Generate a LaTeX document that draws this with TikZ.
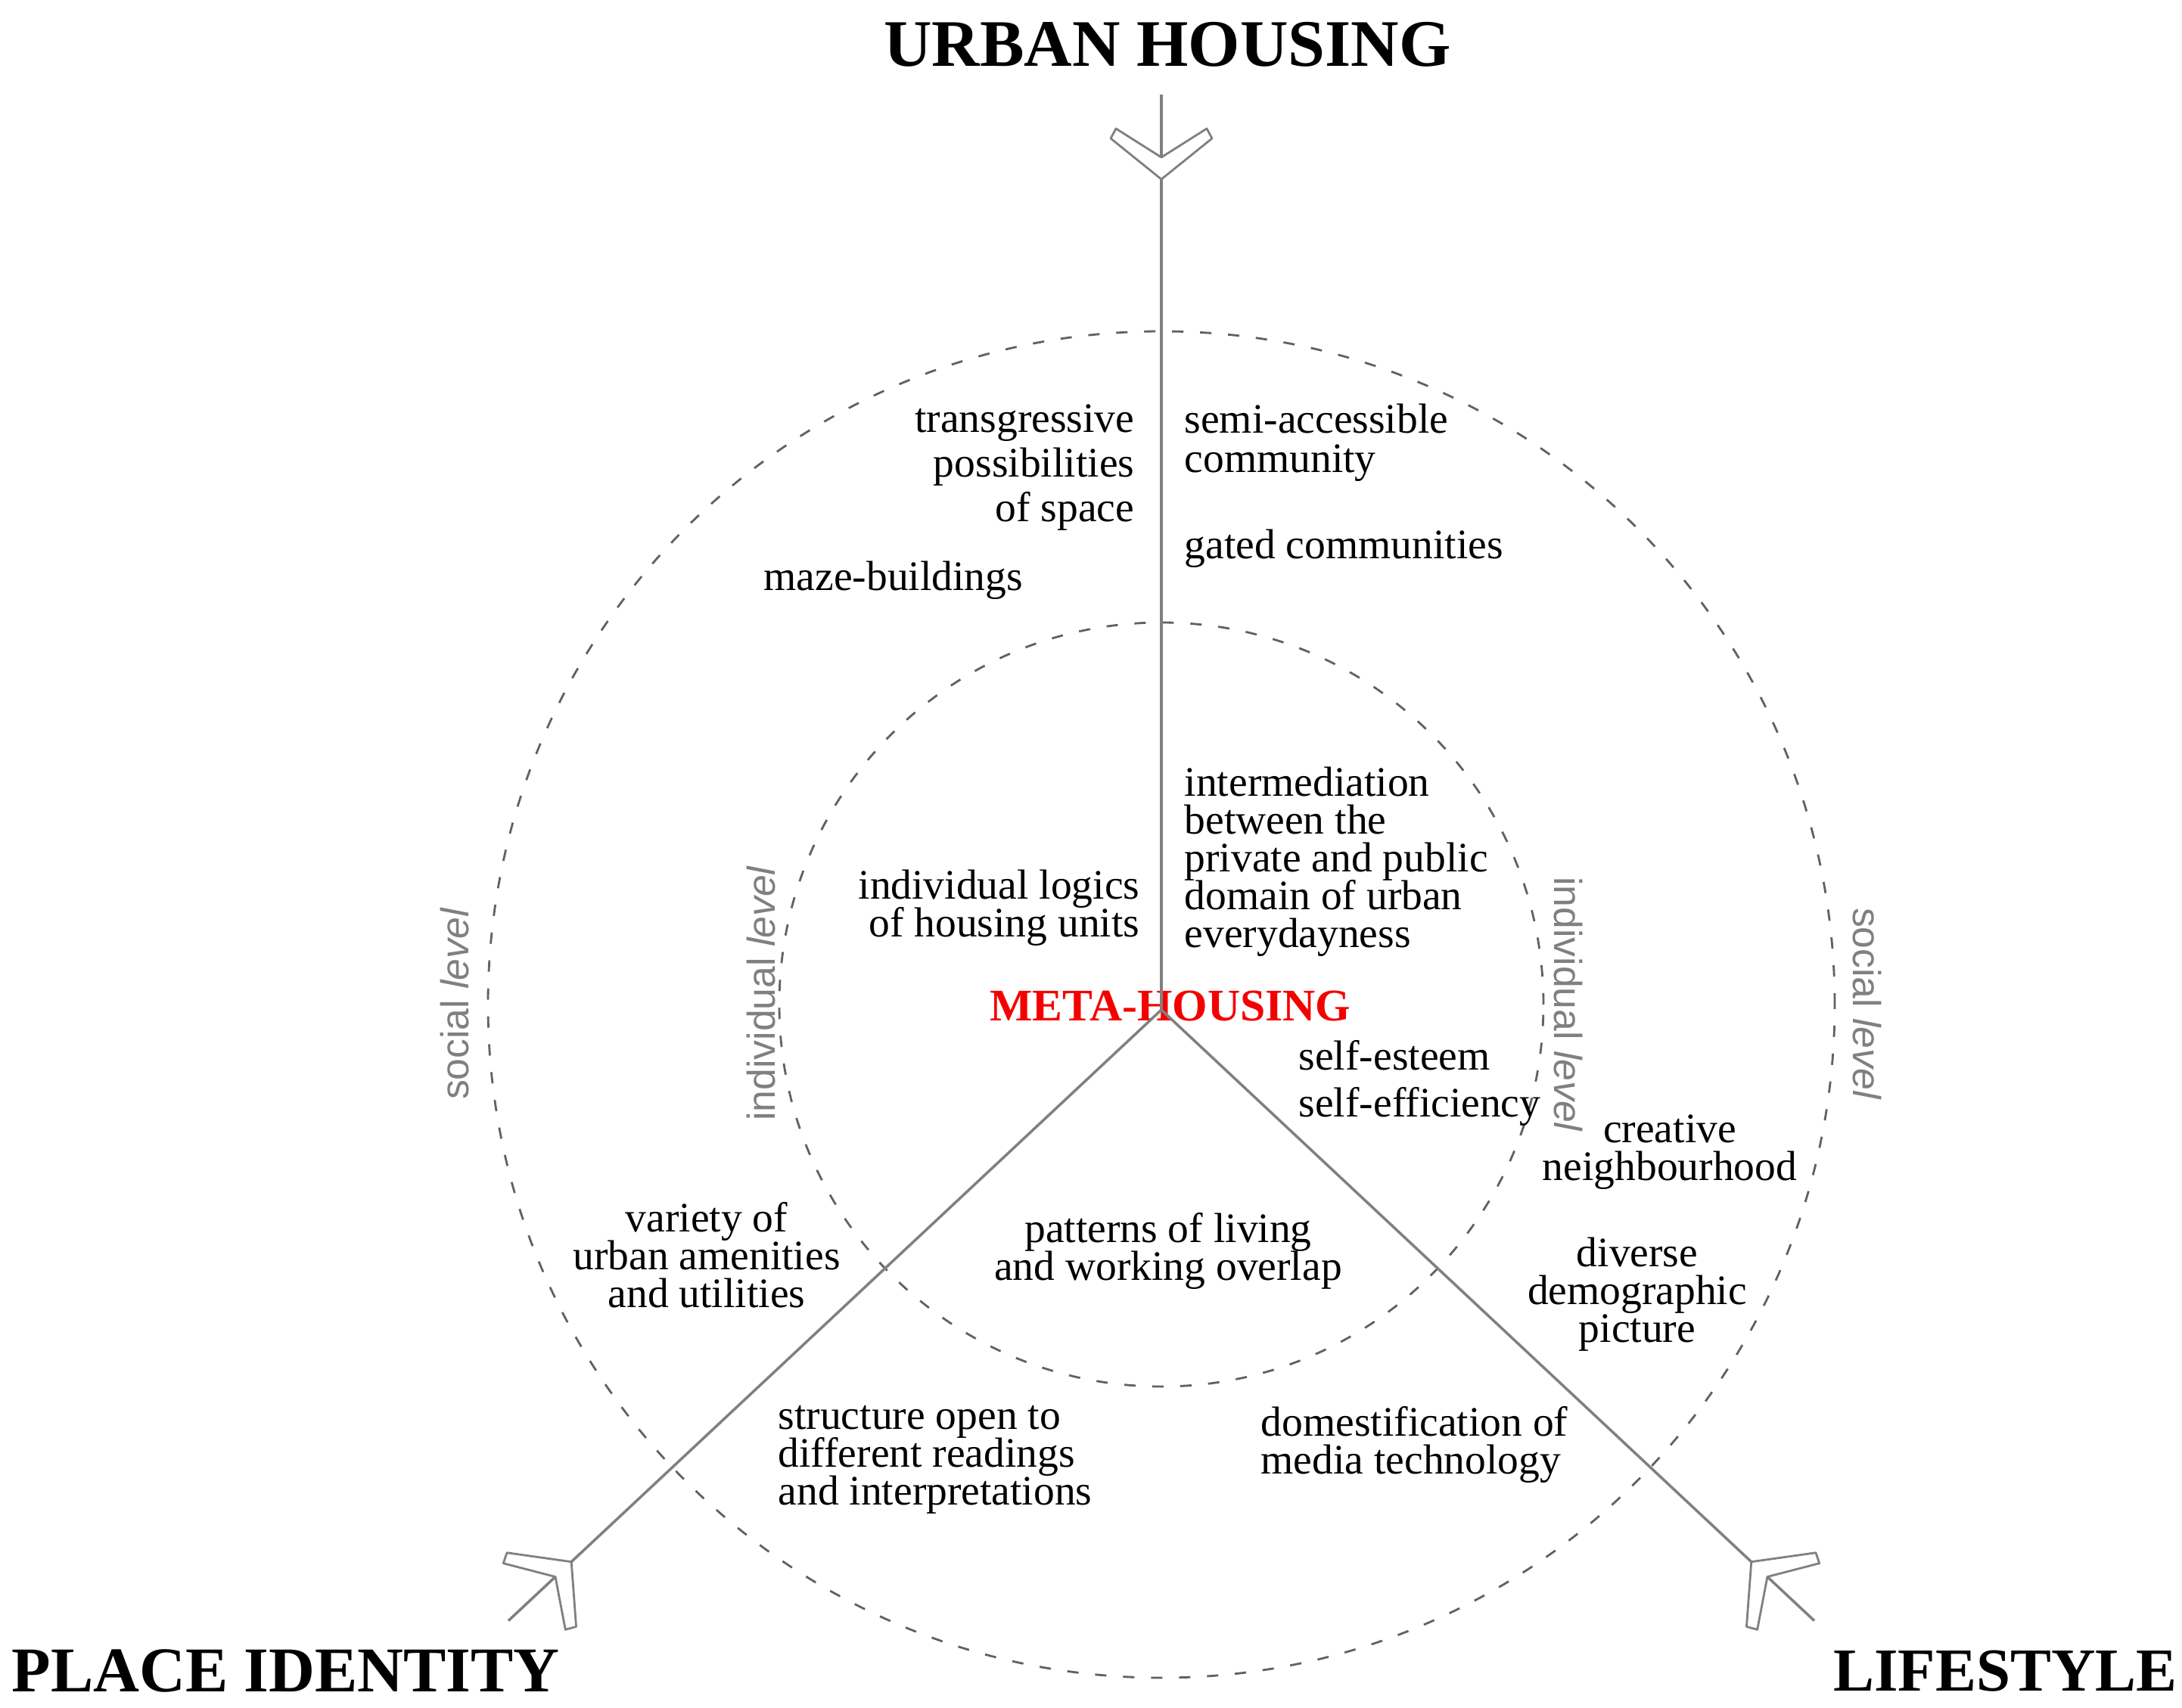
\documentclass[tikz,border=0pt]{standalone}
\usepackage{fontspec}
\setmainfont{Liberation Serif}
\setsansfont{Liberation Sans}
\lineskiplimit=-20pt

\def\rings{5.05/inner, 8.9/outer}
\def\axes{90/10.98/12.10/uh, 223.1/10.68/11.82/pi, -43.1/10.68/11.82/ls}
\def\levelnames{{(-9.34,0.08)/90/social/social-l}, {(9.33,0.08)/-90/social/social-r}, {(-5.29,0.22)/90/individual/indiv-l}, {(5.38,0.07)/-90/individual/indiv-r}}
\colorlet{axis grey}{black!50}
\colorlet{ring grey}{black!62}
\colorlet{level grey}{black!50}
\definecolor{meta red}{RGB}{245,0,0}
\tikzset{
  axis line/.style={draw=axis grey, line width=1pt},
  chevron/.style={draw=axis grey, fill=white, line width=0.8pt, line join=round},
  ring/.style={draw=ring grey, line width=0.8pt, dash pattern=on 0.15cm off 0.22cm}
  }
\tikzstyle{note} = [font=\fontsize{15.8}{14.2}\selectfont, inner sep=0pt]
\tikzstyle{note medium} = [note, font=\fontsize{15.8}{14.8}\selectfont]
\tikzstyle{note loose} = [note, font=\fontsize{15.8}{16.8}\selectfont]
\tikzstyle{heading} = [font=\fontsize{24}{28}\selectfont\bfseries, inner sep=0pt]
\tikzstyle{meta} = [font=\fontsize{17}{20}\selectfont\bfseries, text=meta red, inner sep=0pt]
\tikzstyle{ring text} = [font=\sffamily\fontsize{14.7}{17}\selectfont, text=level grey, inner sep=0pt]

\begin{document}
\begin{tikzpicture}
  \useasboundingbox (-15.35,-9.22) rectangle (13.49,13.35);

  % The centre where the axes meet
  \coordinate (centre) at (0,0);

  % The dashed levels
  \foreach \radius/\name in \rings
    \draw[ring] (0,0.07) circle (\radius);

  % The names of the levels
  \foreach \pos/\rot/\word/\name in \levelnames
    \node[ring text, rotate=\rot] (\name) at \pos {\word{} \textit{level}};

  % Meta-housing in the centre
  \node[meta] (meta) at (0.12,0.05) {META-HOUSING};

  % The three axes with their chevrons
  \foreach \ang/\tip/\tail/\name in \axes {
    \coordinate (\name-end) at (\ang:\tail);
    \path[axis line] (centre) -- (\name-end);
    \draw[chevron, shift={(\ang:\tip)}, rotate=\ang]
      (0,0) -- (0.54,0.67) -- (0.67,0.60) -- (0.29,0) -- (0.67,-0.60) -- (0.54,-0.67) -- cycle;
  }

  % The headings
  \node[heading, font=\fontsize{25}{28}\selectfont\bfseries] (uh) at (0.08,12.76) {URBAN HOUSING};
  \node[heading, anchor=west] (pi) at (-15.20,-8.74) {PLACE IDENTITY};
  \node[heading, anchor=east, font=\fontsize{23}{28}\selectfont\bfseries] (ls) at (13.43,-8.74) {LIFESTYLE};

  % Between place identity and urban housing
  \node[note loose, anchor=east, align=right] (transgressive) at (-0.35,7.17) {transgressive\\possibilities\\of space};
  \node[note, anchor=west] (maze) at (-5.26,5.68) {maze-buildings};
  \node[note, anchor=east, align=right] (logics) at (-0.28,1.35) {individual logics\\of housing units};
  \node[note, align=center] (variety) at (-6.01,-3.24) {variety of\\urban amenities\\and utilities};

  % Between urban housing and lifestyle
  \node[note medium, anchor=west, align=left] (semi) at (0.30,7.50) {semi-accessible\\community};
  \node[note, anchor=west] (gated) at (0.30,6.10) {gated communities};
  \node[note, anchor=west, align=left] (intermediation) at (0.30,1.96) {intermediation\\between the\\private and public\\domain of urban\\everydayness};
  \node[note, anchor=west] (esteem) at (1.81,-0.60) {self-esteem};
  \node[note, anchor=west] (efficiency) at (1.81,-1.28) {self-efficiency};
  \node[note, align=center] (creative) at (6.72,-1.88) {creative\\neighbourhood};
  \node[note, align=center] (diverse) at (6.29,-3.76) {diverse\\demographic\\picture};

  % Between lifestyle and place identity
  \node[note, align=center] (patterns) at (0.09,-3.19) {patterns of living\\and working overlap};
  \node[note, anchor=west, align=left] (structure) at (-5.07,-5.95) {structure open to\\different readings\\and interpretations};
  \node[note, anchor=west, align=left] (media) at (1.31,-5.75) {domestification of\\media technology};

\end{tikzpicture}
\end{document}
